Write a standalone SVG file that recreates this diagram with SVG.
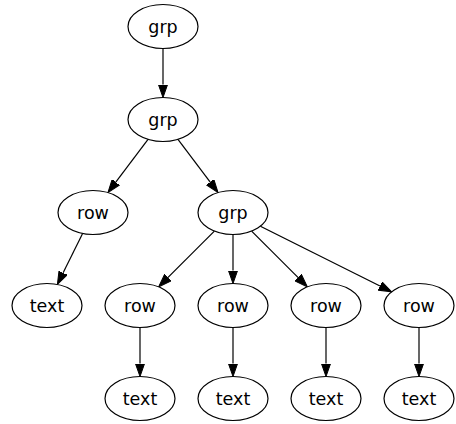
<svg xmlns="http://www.w3.org/2000/svg" width="456" height="424" viewBox="0 0 456 424">
<defs>
<style>
.node ellipse{fill:#fff;stroke:#000;stroke-width:1.2}
.node text{font-family:"DejaVu Sans",sans-serif;font-size:17.5px;text-anchor:middle;fill:#000}
.edges line{stroke:#000;stroke-width:1.2}
</style>
<marker id="ah" markerUnits="userSpaceOnUse" markerWidth="14" markerHeight="10" viewBox="0 -5 14 10" refX="0" refY="0" orient="auto">
<path d="M0,-4.6 L13,0 L0,4.6 z" fill="#000" stroke="#000" stroke-width="1"/>
</marker>
</defs>
<rect width="456" height="424" fill="#fff"/>
<g id="edges" class="edges">
<line x1="163" y1="48.5" x2="163" y2="84.5" marker-end="url(#ah)"/>
<line x1="148.03" y1="139.39" x2="115.79" y2="182.22" marker-end="url(#ah)"/>
<line x1="177.97" y1="139.39" x2="210.21" y2="182.22" marker-end="url(#ah)"/>
<line x1="82.61" y1="233.51" x2="63.15" y2="272.84" marker-end="url(#ah)"/>
<line x1="214.37" y1="231.13" x2="167.82" y2="277.68" marker-end="url(#ah)"/>
<line x1="233" y1="234.5" x2="233" y2="270.5" marker-end="url(#ah)"/>
<line x1="251.63" y1="231.13" x2="298.18" y2="277.68" marker-end="url(#ah)"/>
<line x1="260.39" y1="226.19" x2="379.98" y2="286.0" marker-end="url(#ah)"/>
<line x1="140" y1="327.5" x2="140" y2="363.5" marker-end="url(#ah)"/>
<line x1="233" y1="327.5" x2="233" y2="363.5" marker-end="url(#ah)"/>
<line x1="326" y1="327.5" x2="326" y2="363.5" marker-end="url(#ah)"/>
<line x1="419" y1="327.5" x2="419" y2="363.5" marker-end="url(#ah)"/>
</g>
<g id="grp1" class="node"><ellipse cx="163" cy="26.5" rx="35" ry="22"/><text x="163" y="32.5">grp</text></g>
<g id="grp2" class="node"><ellipse cx="163" cy="119.5" rx="35" ry="22"/><text x="163" y="125.5">grp</text></g>
<g id="rowL" class="node"><ellipse cx="93" cy="212.5" rx="35" ry="22"/><text x="93" y="218.5">row</text></g>
<g id="grp3" class="node"><ellipse cx="233" cy="212.5" rx="35" ry="22"/><text x="233" y="218.5">grp</text></g>
<g id="textL" class="node"><ellipse cx="47" cy="305.5" rx="35" ry="22"/><text x="47" y="311.5">text</text></g>
<g id="row1" class="node"><ellipse cx="140" cy="305.5" rx="35" ry="22"/><text x="140" y="311.5">row</text></g>
<g id="row2" class="node"><ellipse cx="233" cy="305.5" rx="35" ry="22"/><text x="233" y="311.5">row</text></g>
<g id="row3" class="node"><ellipse cx="326" cy="305.5" rx="35" ry="22"/><text x="326" y="311.5">row</text></g>
<g id="row4" class="node"><ellipse cx="419" cy="305.5" rx="35" ry="22"/><text x="419" y="311.5">row</text></g>
<g id="text1" class="node"><ellipse cx="140" cy="398.5" rx="35" ry="22"/><text x="140" y="404.5">text</text></g>
<g id="text2" class="node"><ellipse cx="233" cy="398.5" rx="35" ry="22"/><text x="233" y="404.5">text</text></g>
<g id="text3" class="node"><ellipse cx="326" cy="398.5" rx="35" ry="22"/><text x="326" y="404.5">text</text></g>
<g id="text4" class="node"><ellipse cx="419" cy="398.5" rx="35" ry="22"/><text x="419" y="404.5">text</text></g>
</svg>
